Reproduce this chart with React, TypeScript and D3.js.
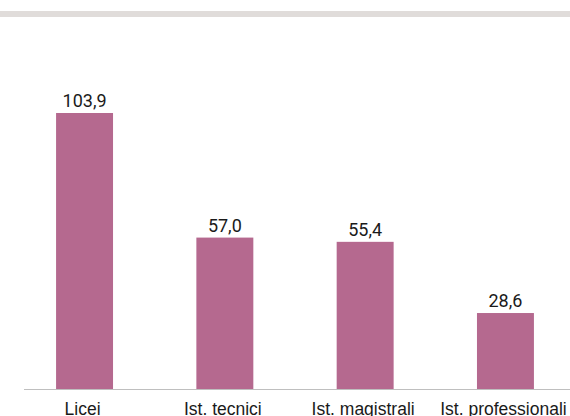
import { useEffect, useRef } from "react";
import * as d3 from "d3";

const CATEGORIES = ["Licei", "Ist. tecnici", "Ist. magistrali", "Ist. professionali"];
const VALUES = [103.9, 57.0, 55.4, 28.6];

const BAR_COLOR = "#B5698F";

export default function App() {
  const ref = useRef<SVGSVGElement>(null);

  useEffect(() => {
    if (!ref.current) return;

    const width = 570;
    const height = 416;
    const baseline = 389;

    const svg = d3.select(ref.current);
    svg.selectAll("*").remove();
    svg.attr("width", width).attr("height", height).attr("viewBox", `0 0 ${width} ${height}`);

    // grey band at the top
    svg
      .append("rect")
      .attr("x", 0)
      .attr("y", 11)
      .attr("width", width)
      .attr("height", 6)
      .attr("fill", "#E0DCDA");

    const x = d3
      .scaleBand<string>()
      .domain(CATEGORIES)
      .range([14.4, 575.6])
      .paddingInner(0.594)
      .paddingOuter(0.297);

    const y = d3.scaleLinear().domain([0, 103.9]).range([baseline, 113]);

    const data = CATEGORIES.map((c, i) => ({ cat: c, value: VALUES[i] }));

    svg
      .append("g")
      .selectAll("rect")
      .data(data)
      .join("rect")
      .attr("x", (d) => x(d.cat)!)
      .attr("y", (d) => y(d.value))
      .attr("width", x.bandwidth())
      .attr("height", (d) => baseline - y(d.value))
      .attr("fill", BAR_COLOR);

    // baseline
    svg
      .append("line")
      .attr("x1", 24)
      .attr("x2", width)
      .attr("y1", baseline + 0.5)
      .attr("y2", baseline + 0.5)
      .attr("stroke", "#BFBFBF")
      .attr("stroke-width", 1);

    const fmt = (v: number) => v.toFixed(1).replace(".", ",");

    svg
      .append("g")
      .selectAll("text")
      .data(data)
      .join("text")
      .attr("x", (d) => x(d.cat)! + x.bandwidth() / 2)
      .attr("y", (d) => y(d.value) - 6)
      .attr("text-anchor", "middle")
      .attr("font-family", "Roboto, 'Liberation Sans', Arial, sans-serif")
      .attr("font-size", 18)
      .attr("fill", "#1A1A1A")
      .text((d) => fmt(d.value));

    svg
      .append("g")
      .selectAll("text")
      .data(data)
      .join("text")
      .attr("x", (d) => x(d.cat)! + x.bandwidth() / 2 - 2)
      .attr("y", 415)
      .attr("text-anchor", "middle")
      .attr("font-family", "'Liberation Sans', Arial, sans-serif")
      .attr("font-size", 17.5)
      .attr("fill", "#1A1A1A")
      .text((d) => d.cat);
  }, []);

  return (
    <div style={{ position: "absolute", left: 0, top: 0 }}>
      <svg ref={ref} style={{ display: "block" }} />
    </div>
  );
}
